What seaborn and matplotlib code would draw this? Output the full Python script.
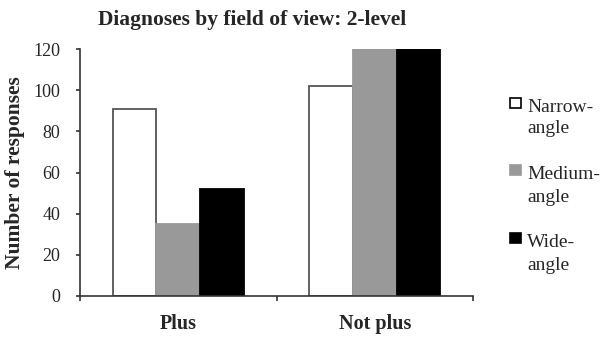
import matplotlib
matplotlib.use("Agg")
import matplotlib.pyplot as plt
import seaborn as sns
import pandas as pd
from matplotlib.patches import Rectangle

categories = ["Plus", "Not plus"]
series = ["Narrow-\nangle", "Medium-\nangle", "Wide-\nangle"]
narrow = [91, 102]
medium = [35, 120]
wide = [52, 120]
yticks = [0, 20, 40, 60, 80, 100, 120]

rows = []
for s, vals in zip(series, [narrow, medium, wide]):
    for c, v in zip(categories, vals):
        rows.append({"category": c, "series": s, "value": v})
df = pd.DataFrame(rows)

sns.set_style("white")
plt.rcParams["font.family"] = ["Liberation Serif", "DejaVu Serif"]

fills = ["#ffffff", "#999999", "#000000"]
edges = ["#555555", "#999999", "#000000"]

W, H = 608, 342
fig = plt.figure(figsize=(6.08, 3.42), dpi=100)
ax = fig.add_axes([80 / W, 1 - 296 / H, (473 - 80) / W, (296 - 49) / H])

sns.barplot(data=df, x="category", y="value", hue="series", order=categories,
            hue_order=series, palette=fills, width=0.667, dodge=True,
            saturation=1, ax=ax, legend=False)

for container, ec in zip(ax.containers, edges):
    for bar in container:
        bar.set_edgecolor(ec)
        bar.set_linewidth(1.3)

ax.set_ylim(0, 120)
ax.set_xlim(-0.5, 1.5)
ax.set_yticks(yticks)
ax.set_yticklabels([str(t) for t in yticks], fontsize=13)
ax.set_xticks([0, 1])
ax.set_xticklabels(categories, fontsize=14.5, fontweight="bold")
ax.set_xticks([-0.5, 0.5, 1.5], minor=True)
ax.tick_params(axis="x", which="major", bottom=False, length=0, pad=13)
ax.tick_params(axis="x", which="minor", bottom=True, length=3.5, width=1.2,
               color="#333333", direction="out")
ax.tick_params(axis="y", left=True, length=3, width=1.2, color="#333333",
               direction="out", pad=11)
ax.set_xlabel("")
ax.set_ylabel("Number of responses", fontsize=15.5, fontweight="bold", labelpad=6)
for sp in ["top", "right"]:
    ax.spines[sp].set_visible(False)
for sp in ["left", "bottom"]:
    ax.spines[sp].set_color("#333333")
    ax.spines[sp].set_linewidth(1.2)

fig.text(252 / W, 1 - 25 / H, "Diagnoses by field of view: 2-level", fontsize=15.5,
         fontweight="bold", ha="center", va="baseline")

# legend (drawn manually so each swatch sits beside the first text line)
box_tops = [98, 165, 233]
first_baselines = [112, 179, 247]
second_baselines = [133, 202, 270]
box_edges = ["#000000", "#999999", "#000000"]
for top, f, e, lab, b1, b2 in zip(box_tops, fills, box_edges, series,
                                  first_baselines, second_baselines):
    fig.add_artist(Rectangle((510 / W, 1 - (top + 10) / H), 11 / W, 10 / H,
                             transform=fig.transFigure, facecolor=f, edgecolor=e,
                             linewidth=1.2))
    line1, line2 = lab.split("\n")
    fig.text(527 / W, 1 - b1 / H, line1, fontsize=14, ha="left", va="baseline")
    fig.text(527 / W, 1 - b2 / H, line2, fontsize=14, ha="left", va="baseline")

fig.savefig("out.png", dpi=100)
